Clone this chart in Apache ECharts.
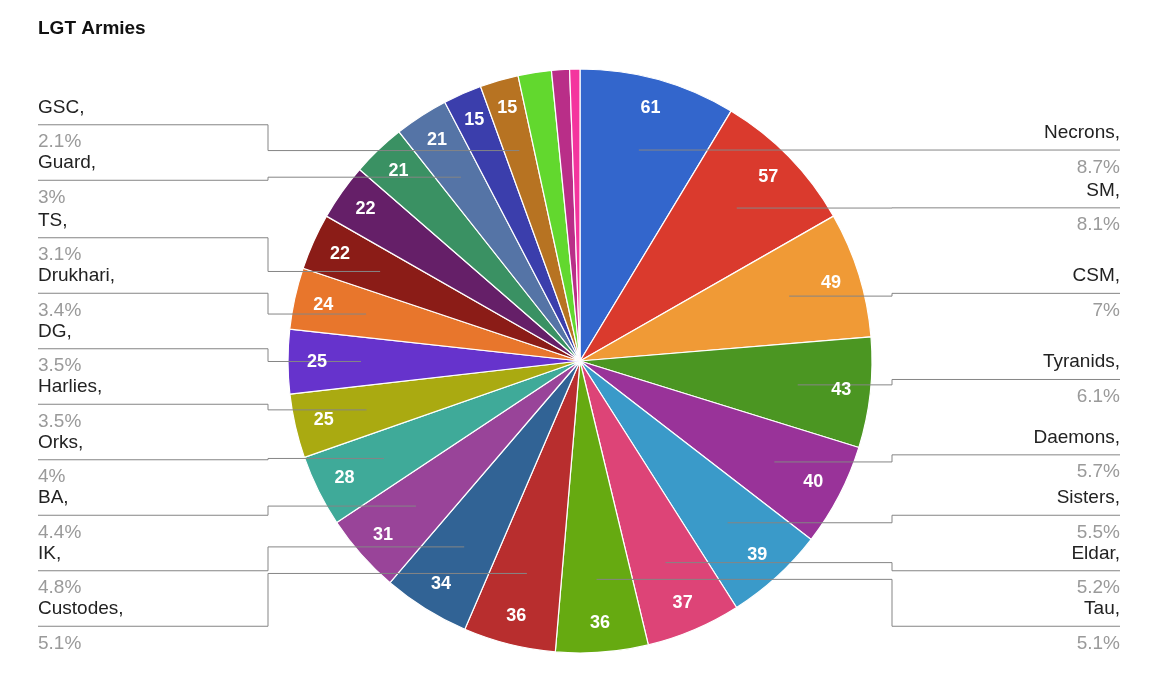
<!DOCTYPE html>
<html>
<head>
<meta charset="utf-8">
<title>LGT Armies</title>
<script src="https://cdn.jsdelivr.net/npm/echarts/dist/echarts.min.js"></script>
<style>
  html, body { margin: 0; padding: 0; background: #fff; }
  #chart { width: 1170px; height: 677px; }
</style>
</head>
<body>
<div id="chart"></div>
<script>
// armies, clockwise from 12 o'clock
var armies = ['Necrons', 'SM', 'CSM', 'Tyranids', 'Daemons', 'Sisters', 'Eldar', 'Tau',
  'Custodes', 'IK', 'BA', 'Orks', 'Harlies', 'DG', 'Drukhari', 'TS',
  'Admech', 'Votann', 'Guard', 'GK', 'GSC', 'DA', 'SW', 'CK'];
var players = [61, 57, 49, 43, 40, 39, 37, 36,
  36, 34, 31, 28, 25, 25, 24, 22,
  22, 21, 21, 15, 15, 13, 7, 4];
// slices that get a name label outside the pie
var labelled = ['Necrons', 'SM', 'CSM', 'Tyranids', 'Daemons', 'Sisters', 'Eldar', 'Tau',
  'Custodes', 'IK', 'BA', 'Orks', 'Harlies', 'DG', 'Drukhari', 'TS', 'Guard', 'GSC'];

var palette = ['#3366cc', '#da3a2d', '#f09a36', '#4b9622', '#993399', '#3a9ac9', '#dd4477', '#66aa11',
  '#b82e2e', '#316395', '#994499', '#3faa99', '#aaaa11', '#6633cc', '#e8762c', '#8b1c17',
  '#651f68', '#3a9163', '#5574a6', '#3b3eac', '#b77322', '#62d82e', '#b92e88', '#f4359e'];

var total = players.reduce(function (a, b) { return a + b; }, 0);

function pct(v) {
  return String(Math.round(v / total * 1000) / 10);
}

var myChart = echarts.init(document.getElementById('chart'));

var CX = 580, CY = 361, R = 292;
var VIEW_LEFT = 38, VIEW_RIGHT = 50, VIEW_BOTTOM = 23;
var JOG = R + 20;

var baseData = armies.map(function (n, i) {
  return { name: n, value: players[i] };
});

var valueData = armies.map(function (n, i) {
  return { name: n, value: players[i], label: { show: players[i] >= 15 } };
});

var nameData = armies.map(function (n, i) {
  var on = labelled.indexOf(n) >= 0;
  return { name: n, value: players[i], label: { show: on }, labelLine: { show: on } };
});

var clear = { color: 'rgba(0,0,0,0)', borderWidth: 0 };

var option = {
  animation: false,
  color: palette,
  textStyle: { fontFamily: 'Liberation Sans, Arial, sans-serif' },
  title: {
    text: 'LGT Armies',
    left: 38,
    top: 19,
    padding: 0,
    textStyle: { fontSize: 19, fontWeight: 'bold', color: '#111' }
  },
  series: [
    {
      name: 'slices',
      type: 'pie',
      silent: true,
      z: 2,
      radius: R,
      center: [CX, CY],
      startAngle: 90,
      clockwise: true,
      avoidLabelOverlap: false,
      itemStyle: { borderColor: '#fff', borderWidth: 1.2 },
      label: { show: false },
      labelLine: { show: false },
      data: baseData
    },
    {
      // inner pie that anchors the leader lines inside the slices
      name: 'names',
      type: 'pie',
      silent: true,
      z: 4,
      left: VIEW_LEFT,
      right: VIEW_RIGHT,
      top: 0,
      bottom: VIEW_BOTTOM,
      radius: R * 0.75,
      center: [CX - VIEW_LEFT, CY],
      startAngle: 90,
      clockwise: true,
      itemStyle: clear,
      label: {
        position: 'outer',
        alignTo: 'edge',
        edgeDistance: 0,
        formatter: function (p) {
          return '{n|' + p.name + ',}\n{p|' + pct(p.value) + '%}';
        },
        rich: {
          n: { fontSize: 19, color: '#222', lineHeight: 34.5 },
          p: { fontSize: 19, color: '#9a9a9a', lineHeight: 34.5 }
        }
      },
      labelLine: {
        show: true,
        length: 0,
        length2: 10,
        smooth: false,
        lineStyle: { color: '#858585', width: 1 }
      },
      labelLayout: function (p) {
        var pts = p.labelLinePoints;
        if (!pts || !pts.length) return {};
        var a = pts[0];
        var r = p.labelRect;
        var midY = r.y + r.height / 2;
        var onLeft = a[0] < CX;
        var jogX = onLeft ? CX - JOG : CX + JOG;
        var endX = onLeft ? r.x : r.x + r.width;
        return {
          labelLinePoints: [[a[0], a[1]], [jogX, a[1]], [jogX, midY], [endX, midY]]
        };
      },
      data: nameData
    },
    {
      // ring only used to place the value text near the rim
      name: 'values',
      type: 'pie',
      silent: true,
      z: 6,
      radius: [R * 0.78, R],
      center: [CX, CY],
      startAngle: 90,
      clockwise: true,
      avoidLabelOverlap: false,
      itemStyle: clear,
      label: {
        position: 'inside',
        formatter: '{c}',
        color: '#fff',
        fontSize: 18,
        fontWeight: 'bold'
      },
      labelLine: { show: false },
      data: valueData
    }
  ]
};

myChart.setOption(option);
</script>
</body>
</html>
